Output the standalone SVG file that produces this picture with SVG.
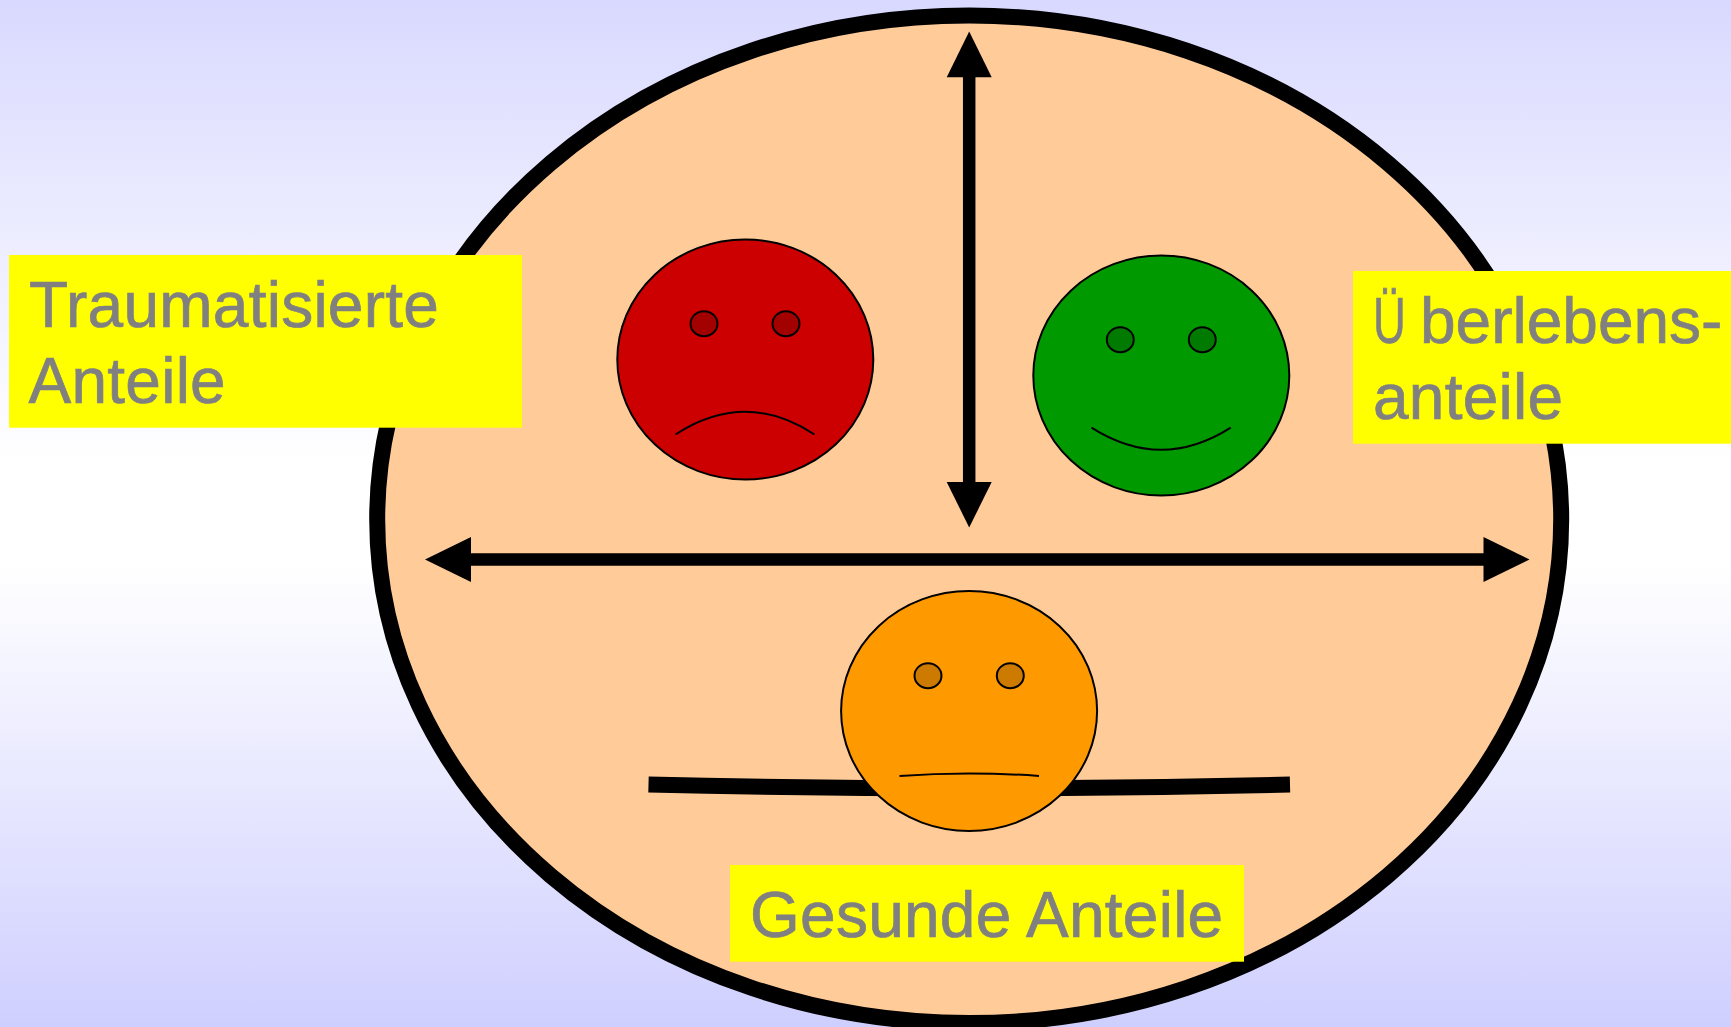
<svg xmlns="http://www.w3.org/2000/svg" width="1731" height="1027" viewBox="0 0 1731 1027">
<style>
.lbl{fill:#ff0}
text{font-family:"Liberation Sans",Arial,sans-serif;font-size:64px;fill:#808080;stroke:#808080;stroke-width:.7px;letter-spacing:.25px}
.face{stroke:#000;stroke-width:2}
.eye{stroke:#000;stroke-width:2}
.mouth{fill:none;stroke:#000;stroke-width:2}
.arrow{stroke:#000;stroke-width:12.500;fill:none}
</style>
<defs>
<linearGradient id="bg" x1="0" y1="0" x2="0" y2="1">
<stop offset="0" stop-color="#d9d9ff"/>
<stop offset=".45" stop-color="#fff"/>
<stop offset=".55" stop-color="#fff"/>
<stop offset="1" stop-color="#cfcfff"/>
</linearGradient>
</defs>
<rect width="1731" height="1027" fill="url(#bg)"/>
<g id="head-outline"><ellipse cx="969.200" cy="519.300" rx="592" ry="503.800" fill="#fc9" stroke="#000" stroke-width="16"/></g>
<g id="connectors">
<path class="arrow" d="M969.200 70V490" />
<path d="M969.200 31.500L991.700 77.300H946.700Z"/>
<path d="M969.200 527.500L991.700 482H946.700Z"/>
<path class="arrow" d="M465 559.500H1490"/>
<path d="M425 559.500L471 537V582Z"/>
<path d="M1529.500 559.500L1483.500 537V582Z"/>
<path d="M648.500 784.500Q969 792.500 1290 784.500" fill="none" stroke="#000" stroke-width="16"/>
</g>
<g id="face-red">
<ellipse class="face" cx="745.300" cy="359.500" rx="128" ry="120" fill="#c00"/>
<ellipse class="eye" cx="704" cy="323.700" rx="13.500" ry="12.500" fill="#a30000"/>
<ellipse class="eye" cx="786" cy="323.700" rx="13.500" ry="12.500" fill="#a30000"/>
<path class="mouth" d="M675.500 434.500Q745.300 389 814.500 434.500"/>
</g>
<g id="face-green">
<ellipse class="face" cx="1161.300" cy="375.500" rx="128" ry="120" fill="#090"/>
<ellipse class="eye" cx="1120.300" cy="339.700" rx="13.500" ry="12.500" fill="#007a00"/>
<ellipse class="eye" cx="1202.300" cy="339.700" rx="13.500" ry="12.500" fill="#007a00"/>
<path class="mouth" d="M1091.500 427.700Q1161.300 472 1230.700 427.700"/>
</g>
<g id="face-orange">
<ellipse class="face" cx="969.100" cy="711" rx="128" ry="120" fill="#f90"/>
<ellipse class="eye" cx="928" cy="675.700" rx="13.500" ry="12.500" fill="#cc7a00"/>
<ellipse class="eye" cx="1010.300" cy="675.700" rx="13.500" ry="12.500" fill="#cc7a00"/>
<path class="mouth" d="M899.500 776Q969.300 771 1039 776"/>
</g>
<g id="label-trauma">
<rect class="lbl" x="9" y="255" width="513" height="172.700"/>
<text x="29" y="326.700">Traumatisierte</text>
<text x="28.500" y="403.300">Anteile</text>
</g>
<g id="label-ueberleben">
<rect class="lbl" x="1353" y="271" width="378" height="172.700"/>
<text x="1373" y="343"><tspan textLength="33" lengthAdjust="spacingAndGlyphs">Ü</tspan> <tspan x="1420" letter-spacing="0">berlebens-</tspan></text>
<text x="1373" y="419.300">anteile</text>
</g>
<g id="label-gesund">
<rect class="lbl" x="730" y="865" width="514" height="96.700"/>
<text x="750" y="936.700">Gesunde Anteile</text>
</g>
</svg>
